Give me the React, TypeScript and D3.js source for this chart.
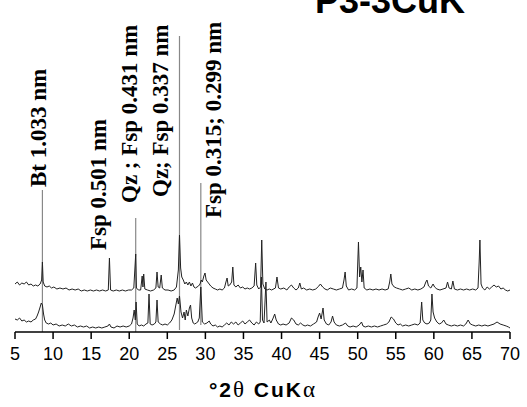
import React from 'react'
import * as d3 from 'd3'

// upper pattern: [°2θ, counts]
const upperTrace: [number, number][] = [
  [5.0, 48], [5.3, 50], [5.6, 47], [5.9, 49], [6.2, 48], [6.5, 50], [6.8, 47], [7.1, 48], [7.4, 46], [7.7, 47],
  [8.0, 46], [8.3, 48], [8.5, 52], [8.6, 70], [8.7, 50], [8.9, 46], [9.2, 45], [9.5, 46], [9.8, 44], [10.1, 45],
  [10.5, 43], [10.9, 44], [11.3, 43], [11.7, 44], [12.1, 42], [12.5, 43], [12.9, 42], [13.3, 43], [13.7, 41], [14.1, 42],
  [14.5, 41], [14.9, 42], [15.3, 41], [15.7, 42], [16.1, 41], [16.5, 42], [16.9, 41], [17.25, 42], [17.4, 74], [17.55, 42],
  [17.9, 41], [18.3, 42], [18.7, 41], [19.1, 42], [19.5, 41], [19.9, 42], [20.3, 42], [20.6, 44], [20.85, 78], [20.95, 44],
  [21.2, 42], [21.5, 42], [21.7, 56], [21.8, 45], [21.9, 58], [22.05, 43], [22.4, 42], [22.8, 41], [23.2, 42], [23.5, 44],
  [23.65, 60], [23.8, 45], [24.0, 44], [24.2, 57], [24.35, 44], [24.7, 42], [25.1, 42], [25.5, 41], [25.9, 42], [26.2, 45],
  [26.45, 62], [26.6, 97], [26.75, 64], [26.9, 55], [27.1, 52], [27.3, 48], [27.5, 50], [27.7, 47], [27.9, 50], [28.1, 46],
  [28.3, 49], [28.5, 45], [28.7, 44], [28.9, 45], [29.1, 46], [29.3, 48], [29.45, 52], [29.6, 50], [29.8, 56], [29.95, 59],
  [30.1, 52], [30.3, 50], [30.5, 48], [30.7, 46], [31.0, 44], [31.3, 43], [31.6, 42], [31.9, 43], [32.2, 42], [32.5, 44],
  [32.7, 50], [32.85, 54], [33.0, 46], [33.2, 47], [33.45, 50], [33.6, 65], [33.75, 47], [34.0, 45], [34.3, 47], [34.6, 44],
  [34.9, 45], [35.2, 43], [35.5, 44], [35.8, 43], [36.1, 44], [36.4, 46], [36.6, 69], [36.75, 47], [37.0, 43], [37.25, 45],
  [37.4, 92], [37.55, 48], [37.8, 43], [38.1, 42], [38.4, 43], [38.7, 42], [39.2, 44], [39.4, 55], [39.6, 44], [39.9, 43],
  [40.3, 44], [40.7, 42], [41.0, 45], [41.3, 47], [41.6, 44], [41.9, 42], [42.2, 44], [42.4, 49], [42.6, 43], [42.9, 44],
  [43.3, 42], [43.7, 43], [44.1, 42], [44.5, 43], [44.9, 46], [45.1, 48], [45.4, 45], [45.7, 43], [46.0, 42], [46.4, 44],
  [46.8, 43], [47.2, 42], [47.6, 43], [48.0, 44], [48.2, 52], [48.35, 60], [48.5, 46], [48.8, 42], [49.2, 43], [49.6, 42],
  [49.9, 44], [50.1, 90], [50.25, 55], [50.4, 65], [50.55, 50], [50.7, 62], [50.85, 44], [51.2, 42], [51.6, 43], [52.0, 42],
  [52.4, 43], [52.8, 42], [53.2, 43], [53.6, 42], [54.0, 43], [54.2, 50], [54.35, 58], [54.5, 48], [54.8, 45], [55.1, 44],
  [55.5, 43], [55.9, 42], [56.3, 43], [56.7, 44], [57.1, 42], [57.5, 43], [57.9, 42], [58.3, 43], [58.7, 45], [58.95, 50],
  [59.1, 52], [59.3, 46], [59.6, 44], [59.9, 48], [60.1, 45], [60.4, 43], [60.8, 42], [61.2, 43], [61.6, 44], [61.8, 50],
  [62.0, 44], [62.3, 43], [62.5, 51], [62.7, 43], [63.1, 42], [63.5, 43], [63.9, 42], [64.3, 43], [64.7, 42], [65.1, 43],
  [65.5, 42], [65.8, 44], [65.95, 70], [66.05, 92], [66.2, 48], [66.4, 44], [66.7, 42], [67.0, 45], [67.3, 43], [67.6, 45],
  [67.9, 47], [68.2, 45], [68.5, 46], [68.8, 43], [69.1, 44], [69.4, 42], [69.7, 41], [70.0, 42],
]

// lower pattern
const lowerTrace: [number, number][] = [
  [5.0, 13], [5.3, 12], [5.6, 14], [5.9, 11], [6.2, 12], [6.5, 10], [6.8, 11], [7.1, 10], [7.4, 12], [7.7, 13],
  [7.9, 16], [8.1, 20], [8.3, 25], [8.45, 29], [8.6, 27], [8.75, 18], [8.9, 12], [9.1, 9], [9.4, 8], [9.7, 9],
  [10.0, 7], [10.4, 8], [10.8, 6], [11.2, 7], [11.6, 6], [12.0, 8], [12.4, 6], [12.8, 7], [13.2, 5], [13.6, 6],
  [14.0, 5], [14.4, 6], [14.8, 4], [15.2, 5], [15.6, 4], [16.0, 5], [16.4, 4], [16.8, 5], [17.2, 6], [17.4, 8],
  [17.6, 5], [18.0, 4], [18.4, 6], [18.8, 5], [19.2, 6], [19.6, 5], [20.0, 6], [20.3, 8], [20.5, 14], [20.65, 22],
  [20.8, 12], [20.9, 30], [21.05, 8], [21.3, 6], [21.6, 7], [21.9, 6], [22.2, 8], [22.45, 9], [22.6, 38], [22.75, 8],
  [23.0, 7], [23.3, 8], [23.5, 10], [23.65, 32], [23.8, 10], [24.1, 8], [24.4, 7], [24.7, 8], [25.0, 7], [25.3, 9],
  [25.6, 12], [25.9, 18], [26.1, 26], [26.3, 34], [26.45, 28], [26.6, 36], [26.8, 20], [27.0, 14], [27.2, 20], [27.35, 12],
  [27.5, 22], [27.7, 16], [27.9, 24], [28.05, 27], [28.2, 14], [28.4, 9], [28.6, 8], [28.8, 9], [29.0, 10], [29.2, 14],
  [29.4, 45], [29.6, 10], [29.9, 8], [30.2, 9], [30.5, 11], [30.7, 8], [31.0, 6], [31.3, 7], [31.6, 5], [31.9, 6],
  [32.2, 5], [32.5, 7], [32.8, 9], [33.1, 7], [33.4, 10], [33.7, 8], [34.0, 10], [34.3, 7], [34.6, 9], [34.9, 11],
  [35.2, 8], [35.5, 10], [35.8, 12], [36.1, 9], [36.4, 7], [36.7, 10], [37.0, 8], [37.2, 10], [37.35, 55], [37.5, 12],
  [37.7, 9], [37.95, 50], [38.1, 10], [38.4, 12], [38.6, 9], [38.9, 14], [39.1, 18], [39.3, 12], [39.6, 8], [39.9, 7],
  [40.2, 8], [40.6, 7], [41.0, 9], [41.3, 14], [41.6, 12], [41.9, 8], [42.2, 7], [42.5, 9], [42.8, 7], [43.1, 6],
  [43.4, 7], [43.8, 6], [44.2, 8], [44.6, 10], [44.8, 15], [45.0, 19], [45.2, 13], [45.45, 24], [45.6, 12], [45.9, 8],
  [46.2, 7], [46.5, 10], [46.7, 16], [46.9, 10], [47.2, 7], [47.6, 6], [48.0, 7], [48.4, 9], [48.7, 6], [49.0, 5],
  [49.4, 6], [49.8, 5], [50.2, 7], [50.5, 10], [50.7, 6], [51.0, 5], [51.4, 6], [51.8, 5], [52.2, 6], [52.6, 5],
  [53.0, 6], [53.4, 7], [53.8, 8], [54.1, 10], [54.4, 15], [54.7, 13], [55.0, 9], [55.3, 7], [55.6, 8], [55.9, 6],
  [56.3, 7], [56.7, 6], [57.1, 7], [57.5, 8], [57.9, 7], [58.2, 9], [58.4, 30], [58.55, 12], [58.8, 9], [59.1, 8],
  [59.4, 9], [59.6, 12], [59.75, 38], [59.9, 20], [60.1, 14], [60.4, 10], [60.7, 8], [61.0, 9], [61.3, 12], [61.6, 8],
  [61.9, 7], [62.3, 6], [62.7, 7], [63.1, 6], [63.5, 7], [63.9, 6], [64.2, 8], [64.5, 12], [64.8, 8], [65.1, 7],
  [65.5, 6], [65.9, 7], [66.3, 6], [66.7, 7], [67.1, 6], [67.5, 7], [67.9, 8], [68.3, 10], [68.7, 8], [69.1, 7],
  [69.5, 6], [69.8, 5], [70.0, 4],
]

const xTicks = [5, 10, 15, 20, 25, 30, 35, 40, 45, 50, 55, 60, 65, 70]

// peak labels and the 2θ they point at
const peakLabels = ['Bt 1.033 nm', 'Fsp 0.501 nm', 'Qz ; Fsp 0.431 nm', 'Qz; Fsp 0.337 nm', 'Fsp 0.315; 0.299 nm']
const peakTheta = [8.6, 17.4, 20.85, 26.6, 29.4]

// layout of labels: text offset (px), text start and marker span (counts)
const labelDx = [4, -3, 1, -11, 20]
const labelStart = [145, 82, 129, 135, 114]
const markerTop = [142, null, 114, 296, 149]
const markerBottom = [0, null, 0, 2, 7]

const W = 527, H = 407

export default function App() {
  const x = d3.scaleLinear().domain([5, 70]).range([15, 510])
  const y = d3.scaleLinear().domain([0, 300]).range([332, 32])
  const line = d3.line<[number, number]>().x(d => x(d[0])).y(d => y(d[1]))

  const greek = { fontFamily: 'Liberation Serif, serif', fontWeight: 'normal', fontSize: '23px' }

  return (
    <svg width={W} height={H} style={{ position: 'absolute', left: 0, top: 0, background: '#fff' }}>
      <text x={315} y={13} style={{ fontFamily: 'Liberation Sans, Arial, sans-serif', fontWeight: 'bold', fontSize: '36px' }}>P3-3CuK</text>

      {peakTheta.map((t, i) => markerTop[i] == null ? null :
        <line key={'m' + i} x1={x(t)} x2={x(t)} y1={y(markerTop[i] as number)} y2={y(markerBottom[i] as number)}
          stroke="#888" strokeWidth={1.2} />
      )}

      <path d={line(upperTrace) || ''} fill="none" stroke="#222" strokeWidth={1} />
      <path d={line(lowerTrace) || ''} fill="none" stroke="#222" strokeWidth={1} />

      {peakLabels.map((s, i) => {
        const px = x(peakTheta[i]) + labelDx[i], py = y(labelStart[i])
        return <text key={'l' + i} transform={`translate(${px},${py}) rotate(-90)`}
          style={{ fontFamily: 'Liberation Serif, Times New Roman, serif', fontWeight: 'bold', fontSize: '23px' }}>{s}</text>
      })}

      <g>
        <line x1={x(5)} x2={x(70)} y1={y(0)} y2={y(0)} stroke="#000" strokeWidth={1.5} />
        {xTicks.map(t => (
          <g key={t} transform={`translate(${x(t)},${y(0)})`}>
            <line y1={0} y2={7} stroke="#000" strokeWidth={1.5} />
            <text y={28} textAnchor="middle" style={{ fontFamily: 'Liberation Sans, Arial, sans-serif', fontSize: '18px' }}>{t}</text>
          </g>
        ))}
      </g>

      <text x={263} y={397} textAnchor="middle" style={{ fontFamily: 'Liberation Sans, Arial, sans-serif', fontWeight: 'bold', fontSize: '21px', letterSpacing: '2px' }}>
        °2<tspan style={greek}>θ</tspan> CuK<tspan style={greek}>α</tspan>
      </text>
    </svg>
  )
}
